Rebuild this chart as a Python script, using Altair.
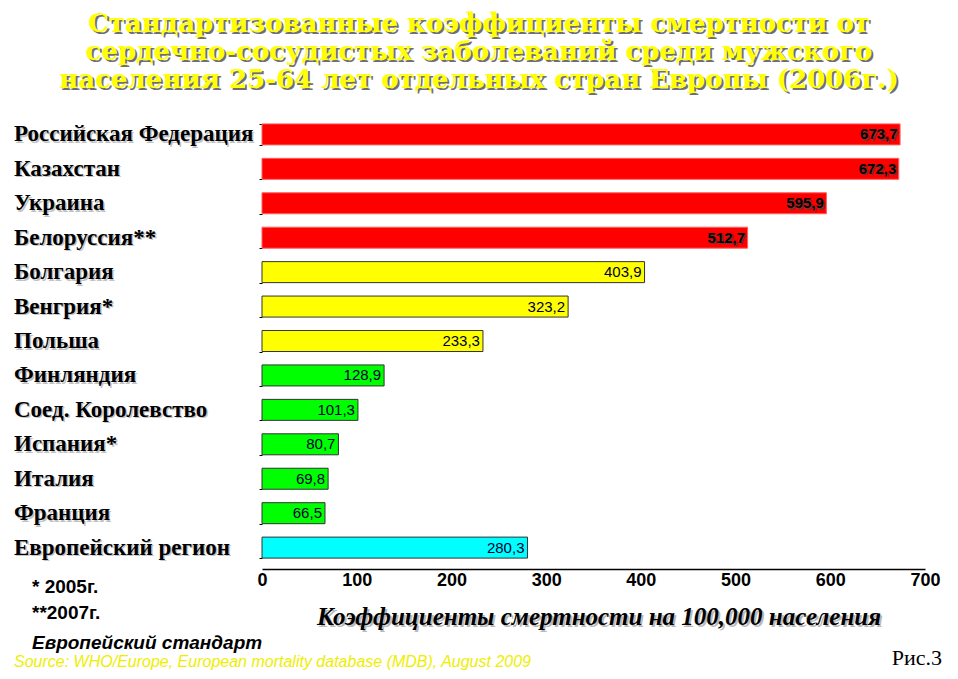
import altair as alt
import pandas as pd

countries = ["Российская Федерация", "Казахстан", "Украина", "Белоруссия**",
             "Болгария", "Венгрия*", "Польша", "Финляндия", "Соед. Королевство",
             "Испания*", "Италия", "Франция", "Европейский регион"]
values = [673.7, 672.3, 595.9, 512.7, 403.9, 323.2, 233.3, 128.9, 101.3, 80.7, 69.8, 66.5, 280.3]
value_labels = ["673,7", "672,3", "595,9", "512,7", "403,9", "323,2", "233,3",
                "128,9", "101,3", "80,7", "69,8", "66,5", "280,3"]
groups = ["high"] * 4 + ["mid"] * 3 + ["low"] * 5 + ["region"]
group_names = ["high", "mid", "low", "region"]
group_colors = ["#ff0000", "#ffff00", "#00ff00", "#00ffff"]
x_ticks = [0, 100, 200, 300, 400, 500, 600, 700]

title_lines = ["Стандартизованные коэффициенты смертности от",
               "сердечно-сосудистых заболеваний среди  мужского",
               "населения 25-64 лет отдельных стран Европы (2006г.)"]
x_title = "Коэффициенты смертности на 100,000 населения"
note1 = "* 2005г."
note2 = "**2007г."
note3 = "Европейский стандарт"
source = "Source: WHO/Europe, European mortality database (MDB), August  2009"
fig_label = "Рис.3"

df = pd.DataFrame({"country": countries, "value": values, "label": value_labels,
                   "group": groups})

W, H = 663, 448
ysc = alt.Scale(domain=countries, paddingInner=0.39, paddingOuter=0.2)
xsc = alt.Scale(domain=[0, 700], nice=False)
Y = alt.Y("country:N", scale=ysc, sort=countries)
X = alt.X("value:Q", scale=xsc)

base = alt.Chart(df)

bars = base.mark_bar(strokeWidth=1).encode(
    x=alt.X("value:Q", scale=xsc,
            axis=alt.Axis(values=x_ticks, title=None, ticks=False, grid=False,
                          domainColor="#000000", domainWidth=1.5, offset=4,
                          labelFlush=False,
                          labelFont="Liberation Sans", labelFontWeight="bold",
                          labelFontSize=18, labelColor="#000000", labelPadding=2)),
    y=alt.Y("country:N", scale=ysc, sort=countries,
            axis=alt.Axis(labels=False, title=None, domain=False, ticks=True,
                          tickSize=3, tickBand="extent", tickColor="#000000", grid=False)),
    color=alt.Color("group:N", scale=alt.Scale(domain=group_names, range=group_colors),
                    legend=None),
    stroke=alt.Stroke("group:N", scale=alt.Scale(domain=group_names,
                      range=["#ff6060", "#333333", "#333333", "#333333"]), legend=None),
)

red_shadow = base.transform_filter(alt.datum.group == "high").mark_text(
    align="right", baseline="middle", dx=-1, dy=1.5, font="Liberation Sans",
    fontWeight="bold", fontSize=15, color="#444444", opacity=0.7
).encode(x=X, y=Y, text="label:N")
red_text = base.transform_filter(alt.datum.group == "high").mark_text(
    align="right", baseline="middle", dx=-2.5, font="Liberation Sans",
    fontWeight="bold", fontSize=15, color="#000000"
).encode(x=X, y=Y, text="label:N")
other_text = base.transform_filter(alt.datum.group != "high").mark_text(
    align="right", baseline="middle", dx=-3, font="Liberation Sans",
    fontSize=15, color="#000033"
).encode(x=X, y=Y, text="label:N")

ylab_shadow = base.mark_text(align="left", baseline="middle", font="Liberation Serif",
                             fontWeight="bold", fontSize=23, color="#888888", opacity=0.5,
                             dx=1.5, dy=1.5).encode(x=alt.value(-248), y=Y, text="country:N")
ylab = base.mark_text(align="left", baseline="middle", font="Liberation Serif",
                      fontWeight="bold", fontSize=23, color="#000000").encode(
    x=alt.value(-248), y=Y, text="country:N")

one = pd.DataFrame({"k": [0]})


def label(text, x, y, **kw):
    return alt.Chart(one).mark_text(text=text, **kw).encode(x=alt.value(x), y=alt.value(y))


title_layers = []
for line, yy in zip(title_lines, [-93, -65, -37]):
    title_layers.append(label(line, 219, yy + 2, align="center", baseline="middle",
                              font="DejaVu Serif", fontWeight="bold", fontSize=26,
                              color="#333333", opacity=0.7))
    title_layers.append(label(line, 217, yy, align="center", baseline="middle",
                              font="DejaVu Serif", fontWeight="bold", fontSize=26,
                              color="#ffff00"))

xt_shadow = label(x_title, 339, 502, align="center", baseline="middle", font="Liberation Serif",
                  fontWeight="bold", fontStyle="italic", fontSize=25, color="#777777", opacity=0.5)
xt_main = label(x_title, 337, 500, align="center", baseline="middle", font="Liberation Serif",
                fontWeight="bold", fontStyle="italic", fontSize=25, color="#000000")
n1 = label(note1, -230, 470, align="left", baseline="middle", font="Liberation Sans",
           fontWeight="bold", fontSize=19, color="#000000")
n2 = label(note2, -230, 496, align="left", baseline="middle", font="Liberation Sans",
           fontWeight="bold", fontSize=19, color="#000000")
n3 = label(note3, -230, 526, align="left", baseline="middle", font="Liberation Sans",
           fontWeight="bold", fontStyle="italic", fontSize=19, color="#000000")
src = label(source, -248, 545, align="left", baseline="middle", font="Liberation Sans",
            fontStyle="italic", fontSize=16, color="#eeee00")
fig = label(fig_label, 680, 541, align="right", baseline="middle", font="Liberation Serif",
            fontSize=22, color="#000000")

chart = alt.layer(
    bars, red_shadow, red_text, other_text, ylab_shadow, ylab,
    *title_layers, xt_shadow, xt_main, n1, n2, n3, src, fig
).properties(
    width=W, height=H,
    background="#ffffff",
    autosize=alt.AutoSizeParams(type="none"),
    padding={"left": 254, "top": 109, "right": 25, "bottom": 106},
).configure_view(stroke=None, strokeWidth=0)

chart.save("out.html", embed_options={"renderer": "svg", "actions": False})
